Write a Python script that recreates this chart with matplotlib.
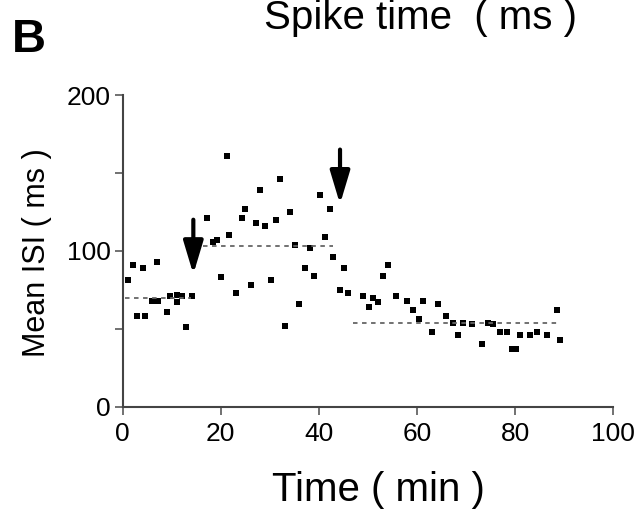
#!/usr/bin/env python
# -*- coding: utf-8 -*-

import matplotlib
matplotlib.use('Agg')
import matplotlib.pyplot as plt


############################################
#                                          #
#                  DATA                    #
#                                          #
############################################

# baseline period (before first arrow)
t_pre = [1.1, 2.2, 4.1, 7.0, 2.9, 4.6, 6.0, 7.3, 9.0, 9.6, 11.1, 12.1, 11.1,
         13.0, 14.1]
isi_pre = [81, 91, 89, 93, 58, 58, 68, 68, 61, 71, 72, 71, 67, 51, 71]

# between the two arrows
t_mid = [17.1, 18.4, 19.2, 20.0, 21.2, 21.7, 23.0, 24.3, 24.9, 26.1, 27.2,
         28.0, 29.0, 30.2, 31.2, 32.1, 33.1, 34.2, 35.1, 36.0, 37.2, 38.2,
         39.0, 40.2, 41.2, 42.3, 42.9]
isi_mid = [121, 106, 107, 83, 161, 110, 73, 121, 127, 78, 118, 139, 116, 81,
           120, 146, 52, 125, 104, 66, 89, 102, 84, 136, 109, 127, 96]

# after second arrow
t_post = [44.2, 45.2, 46.0, 49.0, 50.3, 51.1, 52.1, 53.1, 54.1, 55.8, 57.9,
          59.2, 60.3, 61.3, 63.0, 64.3, 66.0, 67.4, 68.4, 69.4, 71.1, 73.2,
          74.5, 75.5, 76.9, 78.3, 79.4, 80.2, 81.0, 83.0, 84.4, 86.4, 88.5,
          89.1]
isi_post = [75, 89, 73, 71, 64, 70, 67, 84, 91, 71, 68, 62, 56, 68, 48, 66,
            58, 54, 46, 54, 53, 40, 54, 53, 48, 48, 37, 37, 46, 46, 48, 46,
            62, 43]

# dashed mean levels and their time spans
mean_levels = [70, 103, 54]
mean_start = [0.5, 16.4, 47.0]
mean_end = [14.0, 42.9, 89.0]

# arrows (time, top, tip)
arrow_t = [14.4, 44.3]
arrow_top = [120, 165]
arrow_tip = [85, 130]

x_ticks = [0, 20, 40, 60, 80, 100]
y_ticks = [0, 100, 200]
y_minor = [50, 150]


############################################
#                                          #
#                  PLOT                    #
#                                          #
############################################

plt.rcParams['font.family'] = ['Liberation Sans', 'DejaVu Sans']

fig = plt.figure(figsize=(6.43, 5.17), dpi=100)
ax = fig.add_axes([0.1908, 0.2133, 0.763, 0.6029])

for t, isi in [(t_pre, isi_pre), (t_mid, isi_mid), (t_post, isi_post)]:
    ax.plot(t, isi, 's', color='black', markersize=4.3, markeredgewidth=0)

for lvl, a, b in zip(mean_levels, mean_start, mean_end):
    ax.plot([a, b], [lvl, lvl], color='#666666', lw=1.3,
            linestyle=(0, (2.5, 2.5)))

for t, top, tip in zip(arrow_t, arrow_top, arrow_tip):
    ax.annotate('', xy=(t, tip), xytext=(t, top),
                arrowprops=dict(arrowstyle='-|>,head_length=1.0,head_width=0.3',
                                lw=3, color='black', mutation_scale=20,
                                shrinkA=0, shrinkB=0))

ax.set_xlim(0, 100)
ax.set_ylim(0, 200)
ax.set_xticks(x_ticks)
ax.set_yticks(y_ticks)
ax.set_yticks(y_minor, minor=True)

for side in ['top', 'right']:
    ax.spines[side].set_visible(False)
for side in ['left', 'bottom']:
    ax.spines[side].set_linewidth(1.5)
    ax.spines[side].set_color('#444444')

ax.tick_params(which='both', direction='out', length=5.8, width=1.3,
               color='#666666', labelsize=19)
ax.tick_params(axis='x', pad=5)
ax.tick_params(axis='y', pad=3)

fig.text(0.588, 1 - 490 / 517, 'Time ( min )', fontsize=29,
         ha='center', va='center')
fig.text(37 / 643, 1 - 253 / 517, 'Mean ISI ( ms )', fontsize=22,
         rotation=90, ha='center', va='center')
fig.text(421 / 643, 1 - 29 / 517, 'Spike time  ( ms )', fontsize=29,
         ha='center', va='baseline')
fig.text(12 / 643, 1 - 52 / 517, 'B', fontsize=34, fontweight='bold',
         ha='left', va='baseline')

fig.savefig('out.png', dpi=100)
